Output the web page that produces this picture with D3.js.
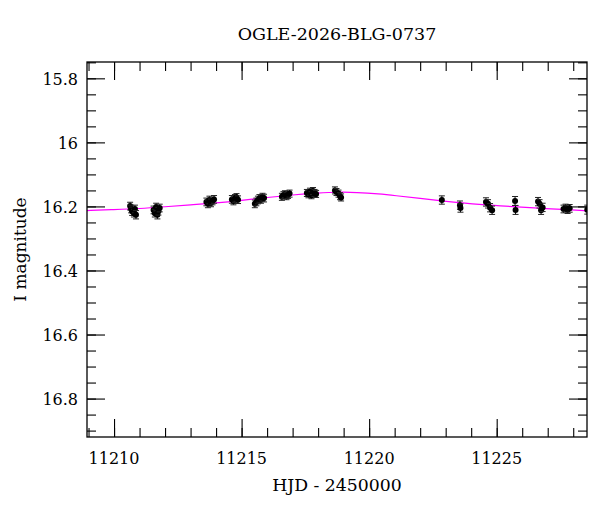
<!DOCTYPE html>
<html>
<head>
<meta charset="utf-8">
<script src="https://cdn.jsdelivr.net/npm/d3@7"></script>
<style>
  body { margin: 0; background: #fff; }
  text { font-family: "DejaVu Serif", serif; fill: #000; }
</style>
</head>
<body>
<div id="chart"></div>
<script>
const width = 600, height = 512;
const margin = {top: 62, right: 13, bottom: 75, left: 87};
const w = width - margin.left - margin.right,
      h = height - margin.top - margin.bottom;

const title = "OGLE-2026-BLG-0737";
const xLabel = "HJD - 2450000";
const yLabel = "I magnitude";
const xTicks = [11210, 11215, 11220, 11225];
const yTicks = [15.8, 16, 16.2, 16.4, 16.6, 16.8];

// observations: time (HJD-2450000), I mag, error
const obsTime = [
  11210.63, 11210.67, 11210.71, 11210.78, 11210.82, 11210.86,
  11211.55, 11211.60, 11211.65, 11211.70, 11211.74, 11211.79,
  11213.62, 11213.68, 11213.74, 11213.80, 11213.86, 11213.92,
  11214.62, 11214.68, 11214.74, 11214.80, 11214.86,
  11215.52, 11215.58, 11215.64, 11215.70, 11215.76, 11215.82, 11215.88,
  11216.58, 11216.64, 11216.70, 11216.76, 11216.82, 11216.88,
  11217.56, 11217.62, 11217.68, 11217.74, 11217.80, 11217.86, 11217.92,
  11218.66, 11218.72, 11218.80, 11218.86, 11218.90,
  11222.85,
  11223.56, 11223.58,
  11224.58, 11224.66, 11224.74, 11224.82,
  11225.72, 11225.74,
  11226.62, 11226.68, 11226.74, 11226.80,
  11227.62, 11227.70, 11227.78, 11227.86,
  11228.55
];
const obsMag = [
  16.199, 16.208, 16.215, 16.221, 16.208, 16.226,
  16.211, 16.221, 16.202, 16.226, 16.215, 16.205,
  16.186, 16.192, 16.180, 16.189, 16.183, 16.178,
  16.178, 16.183, 16.175, 16.172, 16.179,
  16.192, 16.186, 16.180, 16.175, 16.178, 16.171, 16.174,
  16.170, 16.165, 16.162, 16.168, 16.164, 16.160,
  16.158, 16.162, 16.154, 16.165, 16.152, 16.158, 16.161,
  16.150, 16.155, 16.160, 16.168, 16.172,
  16.180,
  16.196, 16.205,
  16.186, 16.192, 16.204, 16.212,
  16.183, 16.211,
  16.185, 16.192, 16.212, 16.203,
  16.208, 16.205, 16.210, 16.206,
  16.210
];
const obsErr = [
  0.012, 0.012, 0.013, 0.012, 0.012, 0.013,
  0.012, 0.012, 0.012, 0.013, 0.012, 0.012,
  0.012, 0.012, 0.012, 0.012, 0.012, 0.012,
  0.012, 0.012, 0.012, 0.012, 0.012,
  0.012, 0.012, 0.012, 0.012, 0.012, 0.012, 0.012,
  0.011, 0.011, 0.011, 0.011, 0.011, 0.011,
  0.011, 0.011, 0.011, 0.011, 0.011, 0.011, 0.011,
  0.011, 0.011, 0.011, 0.011, 0.011,
  0.013,
  0.013, 0.013,
  0.013, 0.013, 0.013, 0.013,
  0.014, 0.014,
  0.013, 0.013, 0.013, 0.013,
  0.012, 0.012, 0.012, 0.012,
  0.014
];

// model curve
const modelTime = [11208.9, 11210.0, 11211.0, 11212.0, 11213.0, 11214.0, 11215.0,
  11216.0, 11217.0, 11218.0, 11218.8, 11219.5, 11220.4, 11221.0, 11222.0,
  11223.0, 11223.6, 11224.5, 11225.1, 11226.0, 11226.7, 11227.5, 11228.6];
const modelMag = [16.213, 16.210, 16.207, 16.201, 16.195, 16.189, 16.181,
  16.172, 16.164, 16.158, 16.155, 16.156, 16.161, 16.166, 16.175,
  16.184, 16.189, 16.195, 16.198, 16.202, 16.206, 16.209, 16.214];

const svg = d3.select("#chart").append("svg")
    .attr("width", width)
    .attr("height", height);

const x = d3.scaleLinear().domain([11208.94, 11228.54]).range([0, w]);
const y = d3.scaleLinear().domain([15.749, 16.92]).range([0, h]);

const g = svg.append("g")
    .attr("transform", "translate(" + margin.left + "," + margin.top + ")");

g.append("defs").append("clipPath").attr("id", "clip")
  .append("rect").attr("width", w).attr("height", h);

const plot = g.append("g").attr("clip-path", "url(#clip)");

// model line
const line = d3.line()
    .x((d, i) => x(modelTime[i]))
    .y((d, i) => y(modelMag[i]))
    .curve(d3.curveBasis);

plot.append("path")
    .attr("d", line(modelTime))
    .attr("fill", "none")
    .attr("stroke", "#ff00ff")
    .attr("stroke-width", 1.2);

// error bars and points
const pts = plot.selectAll(".pt")
    .data(obsTime.map((t, i) => ({t: t, m: obsMag[i], e: obsErr[i]})))
    .enter().append("g");

pts.append("line")
    .attr("x1", d => x(d.t)).attr("x2", d => x(d.t))
    .attr("y1", d => y(d.m - d.e)).attr("y2", d => y(d.m + d.e))
    .attr("stroke", "#000").attr("stroke-width", 1);
pts.append("line")
    .attr("x1", d => x(d.t) - 3).attr("x2", d => x(d.t) + 3)
    .attr("y1", d => y(d.m - d.e)).attr("y2", d => y(d.m - d.e))
    .attr("stroke", "#222").attr("stroke-width", 1);
pts.append("line")
    .attr("x1", d => x(d.t) - 3).attr("x2", d => x(d.t) + 3)
    .attr("y1", d => y(d.m + d.e)).attr("y2", d => y(d.m + d.e))
    .attr("stroke", "#222").attr("stroke-width", 1);
pts.append("circle")
    .attr("cx", d => x(d.t)).attr("cy", d => y(d.m))
    .attr("r", 3).attr("fill", "#000");

// ticks on all four sides, pointing inward
const xMinor = d3.range(11209, 11229, 1);
const yMinor = d3.range(15.75, 16.92, 0.05);

function tickAxis(axisFn, scale, vals, len, tr) {
  const a = g.append("g")
      .attr("transform", tr)
      .call(axisFn(scale).tickValues(vals).tickSize(-len).tickFormat(""));
  a.select(".domain").remove();
  a.selectAll("line").attr("stroke", "#000").attr("stroke-width", 1.1);
  return a;
}
tickAxis(d3.axisBottom, x, xMinor, 9, "translate(0," + h + ")");
tickAxis(d3.axisBottom, x, xTicks, 18, "translate(0," + h + ")");
tickAxis(d3.axisTop, x, xMinor, 9, "translate(0,0)");
tickAxis(d3.axisTop, x, xTicks, 18, "translate(0,0)");
tickAxis(d3.axisLeft, y, yMinor, 9, "translate(0,0)");
tickAxis(d3.axisLeft, y, yTicks, 18, "translate(0,0)");
tickAxis(d3.axisRight, y, yMinor, 9, "translate(" + w + ",0)");
tickAxis(d3.axisRight, y, yTicks, 18, "translate(" + w + ",0)");

// frame
g.append("rect")
    .attr("width", w).attr("height", h)
    .attr("fill", "none").attr("stroke", "#000").attr("stroke-width", 1.3);

// tick labels
g.selectAll(".xl").data(xTicks).enter().append("text")
    .attr("x", d => x(d)).attr("y", h + 27)
    .attr("text-anchor", "middle")
    .style("font-size", "16px")
    .text(d => d);

g.selectAll(".yl").data(yTicks).enter().append("text")
    .attr("x", -9).attr("y", d => y(d) + 6.5)
    .attr("text-anchor", "end")
    .style("font-size", "16px")
    .text(d => d);

// titles
svg.append("text")
    .attr("x", margin.left + w / 2).attr("y", 40)
    .attr("text-anchor", "middle")
    .style("font-size", "17.5px")
    .text(title);

svg.append("text")
    .attr("x", margin.left + w / 2).attr("y", 491)
    .attr("text-anchor", "middle")
    .style("font-size", "17.3px")
    .text(xLabel);

svg.append("text")
    .attr("transform", "translate(26," + (margin.top + h / 2) + ") rotate(-90)")
    .attr("text-anchor", "middle")
    .style("font-size", "17px")
    .text(yLabel);
</script>
</body>
</html>
